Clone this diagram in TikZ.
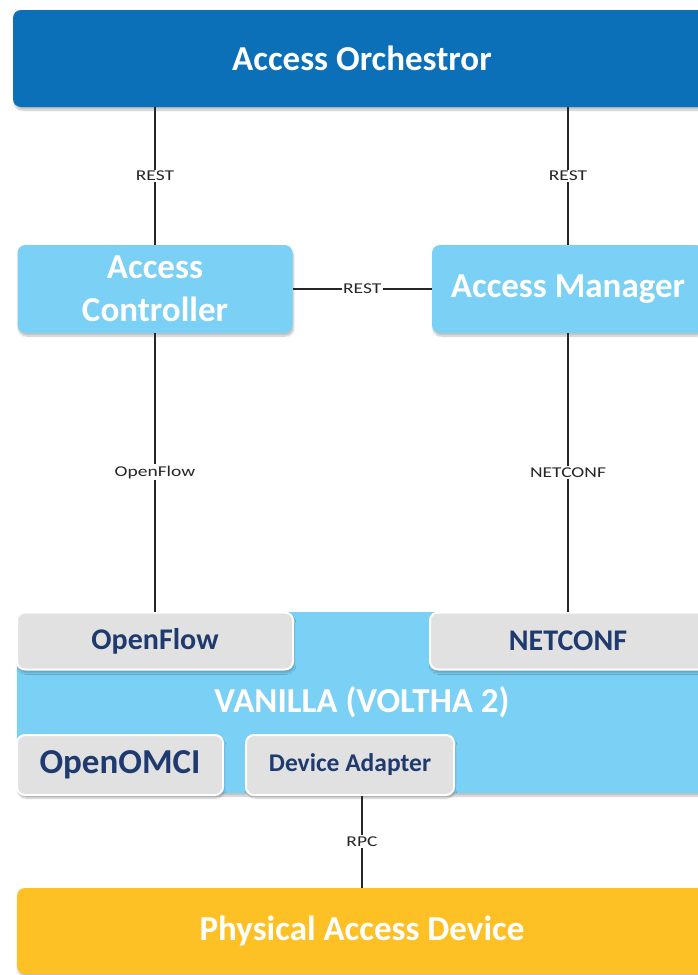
\documentclass[tikz,border=0pt]{standalone}
\usepackage{fontspec}
\setmainfont{Carlito}
\newfontfamily\lblfont[FakeStretch=1.3]{Carlito}
\usetikzlibrary{shadows.blur}

\definecolor{orchblue}{RGB}{12,112,185}
\definecolor{lightblue}{RGB}{123,208,245}
\definecolor{boxgrey}{RGB}{225,225,225}
\definecolor{navytext}{RGB}{31,58,110}
\definecolor{devorange}{RGB}{254,193,37}

\begin{document}
\begin{tikzpicture}[x=1pt,y=-1pt,
  box/.style={rectangle,rounded corners=8,inner sep=0,align=center,
    blur shadow={shadow xshift=1pt,shadow yshift=-3pt,shadow opacity=25,shadow blur steps=6}},
  bigtext/.style={font=\fontsize{35}{43}\selectfont\bfseries,text=white},
  subbox/.style={box,fill=boxgrey,draw=white,line width=2,text=navytext},
  lbl/.style={fill=white,inner sep=1.5,font=\lblfont\fontsize{15}{15}\selectfont},
  link/.style={line width=1.3,black!85}]
\clip (0,0) rectangle (698,975);
\useasboundingbox (0,0) rectangle (698,975);

\path (362,58.5) node[box,fill=orchblue,bigtext,minimum width=698,minimum height=97] (orch) {Access Orchestror};

\path (155,289) node[box,fill=lightblue,bigtext,minimum width=275,minimum height=88] (ctrl) {Access\\Controller};
\path (568,289) node[box,fill=lightblue,bigtext,minimum width=272,minimum height=88] (mgr) {Access Manager};

\path (362,702.5) node[box,fill=lightblue,bigtext,minimum width=690,minimum height=181] (vanilla) {VANILLA (VOLTHA 2)};
\path (155,641) node[subbox,font=\fontsize{30}{30}\selectfont\bfseries,minimum width=276,minimum height=57] (of) {OpenFlow};
\path (568,641) node[subbox,font=\fontsize{30}{30}\selectfont\bfseries,minimum width=276,minimum height=57] (nc) {NETCONF};
\path (120,765) node[subbox,font=\fontsize{35}{35}\selectfont\bfseries,minimum width=206,minimum height=60] (omci) {OpenOMCI};
\path (350,765) node[subbox,font=\fontsize{25.5}{25.5}\selectfont\bfseries,minimum width=208,minimum height=60] (adapter) {Device Adapter};

\path (362,931) node[box,fill=devorange,bigtext,minimum width=690,minimum height=86] (phys) {Physical Access Device};

\draw[link] (ctrl.north) -- node[lbl]{REST} (ctrl.north |- orch.south);
\draw[link] (mgr.north) -- node[lbl]{REST} (mgr.north |- orch.south);
\draw[link] (ctrl) -- node[lbl]{REST} (mgr);
\draw[link] (ctrl.south) -- node[lbl]{OpenFlow} (ctrl.south |- of.north);
\draw[link] (mgr.south) -- node[lbl]{NETCONF} (mgr.south |- nc.north);
\draw[link] (phys.north |- adapter.south) -- node[lbl]{RPC} (phys.north);
\end{tikzpicture}
\end{document}
